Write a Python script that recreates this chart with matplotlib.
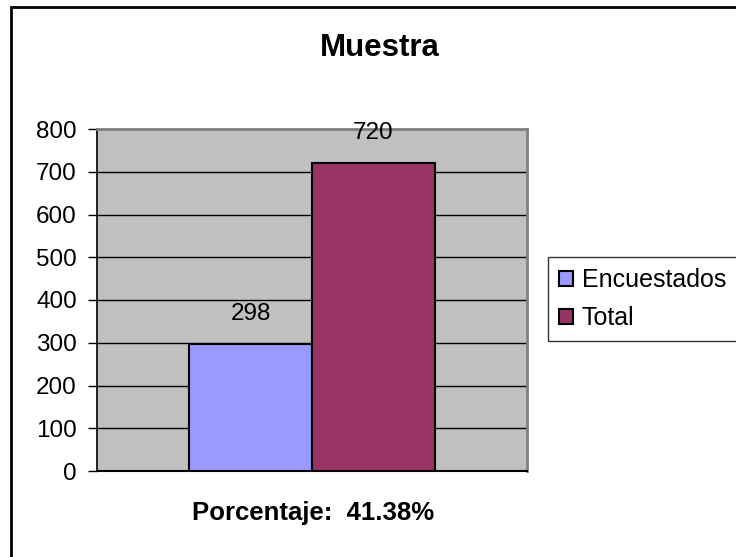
import numpy as np
import matplotlib
matplotlib.use("Agg")
import matplotlib.pyplot as plt
from matplotlib.patches import Rectangle

plt.rcParams['font.family'] = ['Liberation Sans', 'DejaVu Sans']

series = ["Encuestados", "Total"]
values = [298, 720]
colors = ["#9999FF", "#993366"]
yticks = [0, 100, 200, 300, 400, 500, 600, 700, 800]
title = "Muestra"
footer = "Porcentaje:  41.38%"

fig = plt.figure(figsize=(7.36, 5.57), dpi=100)
ax = fig.add_axes([97 / 736, 1 - 471 / 557, 430 / 736, 342 / 557])
ax.set_facecolor("#C0C0C0")

# one category, two series, excel-like gap width 150%
w = 1 / 3.5
offsets = [-w / 2, w / 2]
for off, v, c, name in zip(offsets, values, colors, series):
    ax.bar(off, v, width=w, color=c, edgecolor="black", linewidth=1.5, label=name, zorder=3)
    ax.annotate(str(v), (off, v), xytext=(0, 21.6), textcoords="offset points",
                ha="center", va="center", fontsize=17.5, zorder=4)

ax.set_xlim(-0.5, 0.5)
ax.set_ylim(0, 800)
ax.set_yticks(yticks)
ax.set_xticks([])
ax.yaxis.grid(True, color="black", linewidth=1, zorder=1)
ax.set_axisbelow(True)
ax.tick_params(axis="y", labelsize=17.5, length=6.5, width=1, pad=8)

ax.spines["left"].set_color("black")
ax.spines["bottom"].set_color("black")
ax.spines["left"].set_linewidth(1.2)
ax.spines["bottom"].set_linewidth(1.5)
for s in ["top", "right"]:
    ax.spines[s].set_color("#808080")
    ax.spines[s].set_linewidth(2)

fig.text(380 / 736, 1 - 48 / 557, title, ha="center", va="center",
         fontsize=22.5, fontweight="bold")
fig.text(313 / 736, 1 - 513 / 557, footer, ha="center", va="center",
         fontsize=18.5, fontweight="bold")

leg = fig.legend(loc="upper left", bbox_to_anchor=(548 / 736, 1 - 257 / 557),
                 borderaxespad=0, fontsize=18, frameon=True, fancybox=False,
                 handlelength=0.55, handleheight=0.55, handletextpad=0.35,
                 labelspacing=0.55, borderpad=0.45)
leg.get_frame().set_edgecolor("black")
leg.get_frame().set_linewidth(1)

# outer chart frame (cropped at right and bottom)
fig.patches.append(Rectangle((10.5 / 736, -0.1), 1.2, 1.1 - 7 / 557,
                             transform=fig.transFigure, fill=False,
                             edgecolor="black", linewidth=2, zorder=0))

fig.savefig("out.png", dpi=100)
